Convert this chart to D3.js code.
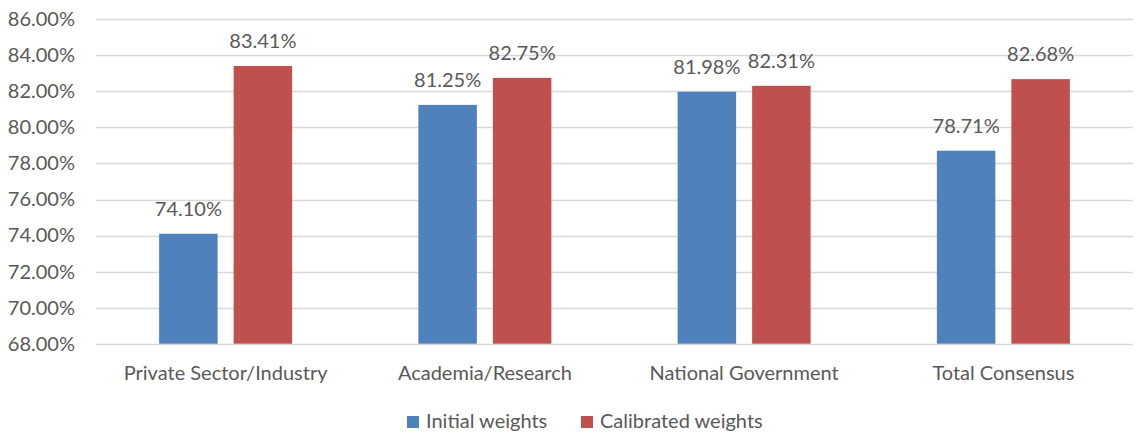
<!DOCTYPE html>
<html>
<head>
<meta charset="utf-8">
<script src="https://cdn.jsdelivr.net/npm/d3@7/dist/d3.min.js"></script>
<style>
  html, body { margin: 0; padding: 0; background: #fff; }
  svg { display: block; }
  text { font-family: Lato, "Open Sans", sans-serif; fill: #595959; }
</style>
</head>
<body>
<svg id="chart" width="1137" height="434"></svg>
<script>
// Chart data
const categories = ["Private Sector/Industry", "Academia/Research", "National Government", "Total Consensus"];
const seriesNames = ["Initial weights", "Calibrated weights"];
const initialWeights = [74.10, 81.25, 81.98, 78.71];
const calibratedWeights = [83.41, 82.75, 82.31, 82.68];
const yTicks = [68, 70, 72, 74, 76, 78, 80, 82, 84, 86];

const colors = ["#4F81BD", "#C0504D"];
const seriesValues = [initialWeights, calibratedWeights];
const fontSize = 20;

const svg = d3.select("#chart");
const plot = { left: 96, right: 1133, top: 19.3, bottom: 343.7 };

const y = d3.scaleLinear().domain([68, 86]).range([plot.bottom, plot.top]);
const x0 = d3.scaleBand().domain(categories).range([plot.left, plot.right]).padding(0);
const groupWidth = 133;
const x1 = d3.scaleBand().domain(seriesNames).range([0, groupWidth]).paddingInner(0.215);

// Gridlines
svg.append("g")
  .selectAll("line")
  .data(yTicks)
  .join("line")
  .attr("x1", plot.left).attr("x2", plot.right)
  .attr("y1", d => Math.round(y(d)) + 0.5).attr("y2", d => Math.round(y(d)) + 0.5)
  .attr("stroke", "#D9D9D9").attr("stroke-width", 1.3);

// Y axis labels
const yAxis = d3.axisLeft(y).tickValues(yTicks).tickSize(0).tickPadding(0)
  .tickFormat(d => d.toFixed(2) + "%");
svg.append("g")
  .attr("transform", `translate(75,0)`)
  .call(yAxis)
  .call(g => g.select(".domain").remove())
  .selectAll("text")
  .attr("font-size", fontSize)
  .style("font-family", "Lato, 'Open Sans', sans-serif")
  .attr("fill", "#595959");

// Bars with value labels
const groups = svg.append("g")
  .selectAll("g")
  .data(categories)
  .join("g")
  .attr("transform", d => `translate(${x0(d) + (x0.bandwidth() - groupWidth) / 2},0)`);

groups.each(function (cat, ci) {
  const g = d3.select(this);
  seriesNames.forEach((s, si) => {
    const v = seriesValues[si][ci];
    g.append("rect")
      .attr("x", x1(s))
      .attr("y", y(v))
      .attr("width", x1.bandwidth())
      .attr("height", y(68) - y(v))
      .attr("fill", colors[si]);
    g.append("text")
      .attr("x", x1(s) + x1.bandwidth() / 2)
      .attr("y", y(v) - 18)
      .attr("text-anchor", "middle")
      .attr("font-size", fontSize)
      .text(v.toFixed(2) + "%");
  });
});

// Category labels
const xAxis = d3.axisBottom(x0).tickSize(0).tickPadding(0);
svg.append("g")
  .attr("transform", `translate(0,${plot.bottom})`)
  .call(xAxis)
  .call(g => g.select(".domain").remove())
  .selectAll("text")
  .attr("dy", null)
  .attr("y", 36)
  .attr("font-size", fontSize)
  .style("font-family", "Lato, 'Open Sans', sans-serif")
  .attr("fill", "#595959");

// Legend
const legendItems = [
  { name: seriesNames[0], color: colors[0], x: 407 },
  { name: seriesNames[1], color: colors[1], x: 581 }
];
const legend = svg.append("g");
legendItems.forEach(item => {
  legend.append("rect")
    .attr("x", item.x).attr("y", 416)
    .attr("width", 12).attr("height", 12)
    .attr("fill", item.color);
  legend.append("text")
    .attr("x", item.x + 19).attr("y", 428)
    .attr("font-size", fontSize)
    .text(item.name);
});
</script>
</body>
</html>
